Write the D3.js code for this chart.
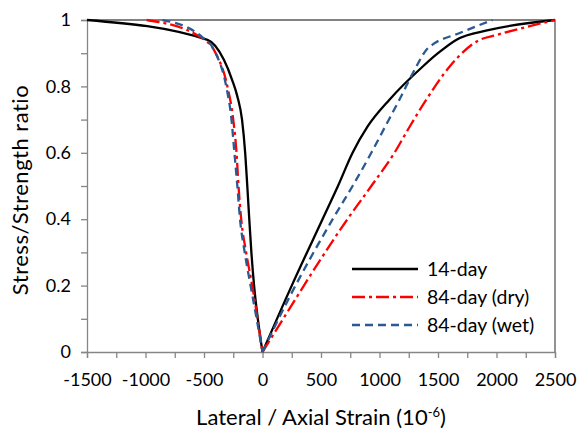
<!DOCTYPE html>
<html>
<head>
<meta charset="utf-8">
<script src="https://cdn.jsdelivr.net/npm/d3@7"></script>
<style>
  body { margin: 0; background: #fff; }
  text { font-family: Lato, "Open Sans", sans-serif; fill: #000; }
</style>
</head>
<body>
<script>
// strain (10^-6), stress/strength ratio; lateral branch first (negative), then axial
var day14 = [
  [-1500, 1], [-470, 0.94], [-330, 0.88], [-260, 0.82], [-215, 0.77], [-175, 0.7],
  [-148, 0.6], [-130, 0.5], [-113, 0.4], [-95, 0.3], [-72, 0.2], [-40, 0.1], [0, 0],
  [250, 0.2], [513, 0.4], [645, 0.5], [770, 0.6], [900, 0.68], [1085, 0.76],
  [1370, 0.86], [1500, 0.9], [1655, 0.94], [1940, 0.97], [2500, 1]
];
var day84dry = [
  [-990, 1], [-538, 0.95], [-400, 0.9], [-300, 0.8], [-250, 0.7], [-222, 0.6],
  [-205, 0.5], [-182, 0.4], [-140, 0.3], [-88, 0.2], [-42, 0.1], [0, 0],
  [230, 0.13], [480, 0.27], [726, 0.4], [930, 0.5], [1128, 0.6], [1260, 0.68],
  [1400, 0.76], [1600, 0.86], [1855, 0.94], [2000, 0.955], [2500, 1]
];
var day84wet = [
  [-855, 1], [-520, 0.95], [-400, 0.9], [-310, 0.8], [-265, 0.7], [-240, 0.6],
  [-215, 0.5], [-192, 0.4], [-152, 0.3], [-102, 0.2], [-50, 0.1], [0, 0],
  [230, 0.165], [600, 0.4], [770, 0.5], [930, 0.6], [1050, 0.68], [1170, 0.76],
  [1315, 0.86], [1400, 0.91], [1450, 0.925], [1680, 0.96], [1966, 1]
];
var seriesNames = ["14-day", "84-day (dry)", "84-day (wet)"];
var xTickLabels = [-1500, -1000, -500, 0, 500, 1000, 1500, 2000, 2500];
var yTickLabels = [0, 0.2, 0.4, 0.6, 0.8, 1];

var W = 579, H = 432;
var mLeft = 87, mRight = 555, mTop = 20, mBottom = 352;

var svg = d3.select("body").append("svg")
    .attr("width", W)
    .attr("height", H);

var x = d3.scaleLinear().domain([-1500, 2500]).range([mLeft, mRight]);
var y = d3.scaleLinear().domain([0, 1]).range([mBottom, mTop]);

// frame (top and right edges)
svg.append("path")
    .attr("d", "M" + mLeft + "," + mTop + "H" + mRight + "V" + mBottom)
    .attr("fill", "none")
    .attr("stroke", "#595959")
    .attr("stroke-width", 1.3);

// axes
var xAxis = d3.axisBottom(x)
    .tickValues(d3.range(-1500, 2501, 250))
    .tickSize(6)
    .tickFormat(function(d) { return xTickLabels.indexOf(d) >= 0 ? d : ""; });
var gx = svg.append("g").attr("transform", "translate(0," + mBottom + ")").call(xAxis);

var yAxis = d3.axisLeft(y)
    .tickValues(d3.range(0, 11).map(function(i) { return i / 10; }))
    .tickSize(6)
    .tickFormat(function(d) {
      var r = Math.round(d * 10) / 10;
      return yTickLabels.indexOf(r) >= 0 ? d3.format("")(r) : "";
    });
var gy = svg.append("g").attr("transform", "translate(" + mLeft + ",0)").call(yAxis);

[gx, gy].forEach(function(g) {
  g.select(".domain").attr("stroke", "#868686").attr("stroke-width", 1.3);
  g.selectAll(".tick line").attr("stroke", "#868686").attr("stroke-width", 1.3);
  g.selectAll(".tick text").style("font-size", "18px").attr("fill", "#000");
});
gx.selectAll(".tick text").attr("dy", "0.71em").attr("y", 21);
gy.selectAll(".tick text").attr("x", -16);

// series
var styles = [
  { color: "#000000", dash: null },
  { color: "#ff0000", dash: "13,4,3,4" },
  { color: "#2a5a92", dash: "8,5" }
];
var allSeries = [day14, day84dry, day84wet];

var line = d3.line()
    .x(function(d) { return x(d[0]); })
    .y(function(d) { return y(d[1]); })
    .curve(d3.curveMonotoneX);

allSeries.forEach(function(s, i) {
  var lat = s.filter(function(d) { return d[0] <= 0; });
  var ax = s.filter(function(d) { return d[0] >= 0; });
  [lat, ax].forEach(function(part) {
    svg.append("path")
        .datum(part)
        .attr("d", line)
        .attr("fill", "none")
        .attr("stroke", styles[i].color)
        .attr("stroke-width", 2.3)
        .attr("stroke-dasharray", styles[i].dash);
  });
});

// legend
var legend = svg.append("g");
seriesNames.forEach(function(name, i) {
  var ly = 269 + i * 28;
  legend.append("line")
      .attr("x1", 352).attr("x2", 418)
      .attr("y1", ly).attr("y2", ly)
      .attr("stroke", styles[i].color)
      .attr("stroke-width", 2.3)
      .attr("stroke-dasharray", styles[i].dash);
  legend.append("text")
      .attr("x", 427).attr("y", ly)
      .attr("dy", "0.35em")
      .style("font-size", "19.5px")
      .text(name);
});

// axis titles
var xt = svg.append("text")
    .attr("x", 321).attr("y", 425)
    .attr("text-anchor", "middle")
    .style("font-size", "22px")
    .text("Lateral / Axial Strain (10");
xt.append("tspan").attr("baseline-shift", "super").style("font-size", "13px").text("-6");
xt.append("tspan").text(")");

svg.append("text")
    .attr("transform", "translate(28,190) rotate(-90)")
    .attr("text-anchor", "middle")
    .style("font-size", "22px")
    .style("letter-spacing", "0.5px")
    .text("Stress/Strength ratio");
</script>
</body>
</html>
